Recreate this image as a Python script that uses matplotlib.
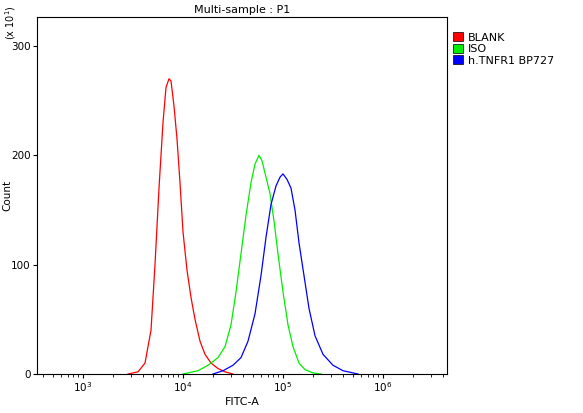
import matplotlib
matplotlib.use("Agg")
import matplotlib.pyplot as plt
import numpy as np

red_logx = [3.45,3.55,3.62,3.68,3.72,3.76,3.80,3.83,3.86,3.88,3.91,3.94,3.97,4.00,4.04,4.08,4.12,4.17,4.22,4.28,4.35,4.42,4.50]
red_y    = [0,2,10,40,100,170,230,262,270,268,245,215,175,130,95,70,50,30,18,10,5,2,0]
green_logx = [4.00,4.15,4.25,4.35,4.42,4.48,4.53,4.58,4.63,4.68,4.72,4.76,4.79,4.83,4.87,4.91,4.95,5.00,5.05,5.10,5.16,5.22,5.30,5.38]
green_y    = [0,3,8,15,25,45,75,110,145,175,192,200,195,180,165,140,110,75,45,25,10,4,1,0]
blue_logx = [4.30,4.40,4.50,4.58,4.65,4.72,4.78,4.83,4.88,4.93,4.97,5.00,5.04,5.08,5.12,5.16,5.21,5.26,5.32,5.40,5.50,5.60,5.70,5.75]
blue_y    = [0,3,8,15,30,55,90,125,155,172,180,183,178,170,150,120,90,60,35,18,8,3,1,0]

fig = plt.figure(figsize=(5.83,4.13), dpi=100)
ax = fig.add_axes([37/583, 1-374/413, 410/583, 357/413])
ax.plot(10**np.array(red_logx), red_y, color='#ff0000', lw=0.9)
ax.plot(10**np.array(green_logx), green_y, color='#00ee00', lw=0.9)
ax.plot(10**np.array(blue_logx), blue_y, color='#0000ff', lw=0.9)
ax.set_xscale('log')
ax.set_xlim(10**2.54, 10**6.64)
ax.set_ylim(0, 326.5)
ax.set_yticks([0,100,200,300])
ax.set_xticks([1e3,1e4,1e5,1e6])
ax.tick_params(labelsize=7.5, direction='out', length=3, pad=1.5)
ax.set_xlabel('FITC-A', fontsize=8, labelpad=2)
ax.set_ylabel('Count', fontsize=7.5)
ax.yaxis.set_label_coords(-25/410, 0.5)
ax.set_title('Multi-sample : P1', fontsize=8, pad=3)
fig.text(3/583, 1-40/413, '(x 10$^1$)', rotation=90, fontsize=7, va='bottom')
ax.legend(loc='upper left', bbox_to_anchor=(1.005, 0.97), fontsize=8, frameon=False,
          handlelength=0.9, handleheight=0.9, borderaxespad=0, labelspacing=0.1,
          handletextpad=0.4,
          handles=[plt.Rectangle((0,0),1,1,fc=c,ec='k',lw=0.5) for c in ['#ff0000','#00ee00','#0000ff']],
          labels=['BLANK','ISO','h.TNFR1 BP727'])
fig.savefig('out.png')
